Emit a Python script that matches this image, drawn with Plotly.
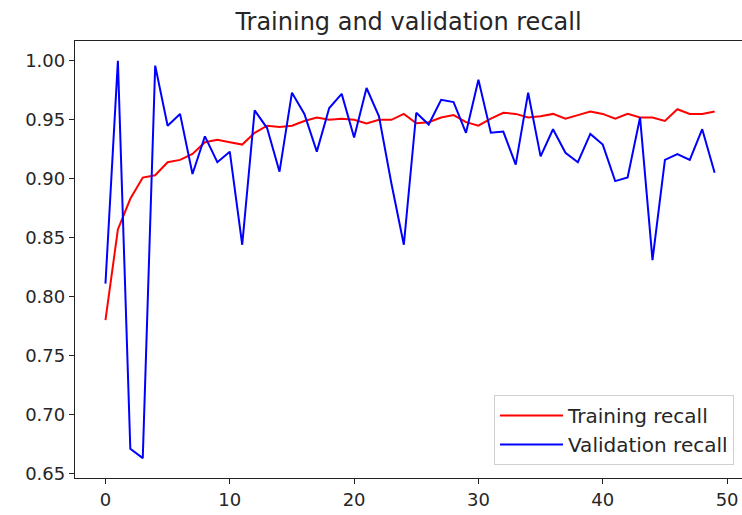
import plotly.graph_objects as go

# Per-epoch recall values
epochs = list(range(50))
train_recall = [
    0.780, 0.857, 0.883, 0.901, 0.903, 0.914, 0.916, 0.921, 0.931, 0.933,
    0.931, 0.929, 0.939, 0.945, 0.944, 0.945, 0.949, 0.952, 0.950, 0.951,
    0.950, 0.947, 0.950, 0.950, 0.955, 0.947, 0.948, 0.952, 0.954, 0.948,
    0.945, 0.951, 0.956, 0.955, 0.952, 0.953, 0.955, 0.951, 0.954, 0.957,
    0.955, 0.951, 0.955, 0.952, 0.952, 0.949, 0.959, 0.955, 0.955, 0.957,
]
val_recall = [
    0.811, 1.000, 0.671, 0.663, 0.996, 0.945, 0.955, 0.904, 0.936, 0.914,
    0.923, 0.844, 0.958, 0.943, 0.906, 0.973, 0.955, 0.923, 0.960, 0.972,
    0.935, 0.977, 0.953, 0.896, 0.844, 0.956, 0.946, 0.967, 0.965, 0.939,
    0.984, 0.939, 0.940, 0.912, 0.973, 0.919, 0.942, 0.922, 0.914, 0.938,
    0.929, 0.898, 0.901, 0.952, 0.831, 0.916, 0.921, 0.916, 0.942, 0.905,
]
y_ticks = [0.65, 0.70, 0.75, 0.80, 0.85, 0.90, 0.95, 1.00]
x_ticks = [0, 10, 20, 30, 40, 50]

FONT = "DejaVu Sans"
TEXT = "#262626"
TICK_SIZE = 18

fig = go.Figure()
fig.add_trace(go.Scatter(x=epochs, y=train_recall, mode="lines",
                         name="Training recall",
                         line=dict(color="red", width=2)))
fig.add_trace(go.Scatter(x=epochs, y=val_recall, mode="lines",
                         name="Validation recall",
                         line=dict(color="blue", width=2)))

# matplotlib-style 5% padding around the data
all_y = train_recall + val_recall
ymin, ymax = min(all_y), max(all_y)
pad = 0.05 * (ymax - ymin)

fig.update_layout(
    width=742, height=515,
    margin=dict(l=75, r=0, t=41, b=37),
    paper_bgcolor="white", plot_bgcolor="white",
    font=dict(family=FONT, size=TICK_SIZE, color=TEXT),
    title=dict(text="Training and validation recall",
               x=0.5, xref="paper", xanchor="center",
               y=1, yref="paper", yanchor="bottom", pad=dict(b=11),
               font=dict(family=FONT, size=24, color=TEXT)),
    xaxis=dict(range=[-2.45, 51.2], tickvals=x_ticks,
               showgrid=False, zeroline=False,
               showline=True, linecolor="#222", linewidth=1.3, mirror=True,
               ticks="outside", ticklen=5, tickcolor="#222",
               tickfont=dict(family=FONT, size=TICK_SIZE, color=TEXT)),
    yaxis=dict(range=[ymin - pad, ymax + pad], tickvals=y_ticks,
               tickformat=".2f",
               showgrid=False, zeroline=False,
               showline=True, linecolor="#222", linewidth=1.3,
               ticks="outside", ticklen=5, tickcolor="#222",
               tickfont=dict(family=FONT, size=TICK_SIZE, color=TEXT)),
    legend=dict(x=0.988, y=0.03, xanchor="right", yanchor="bottom",
                bgcolor="rgba(255,255,255,0.8)", bordercolor="#d0d0d0",
                borderwidth=1, font=dict(family=FONT, size=20, color=TEXT),
                itemwidth=63, tracegroupgap=0),
    showlegend=True,
)

fig.write_html("out.html")
